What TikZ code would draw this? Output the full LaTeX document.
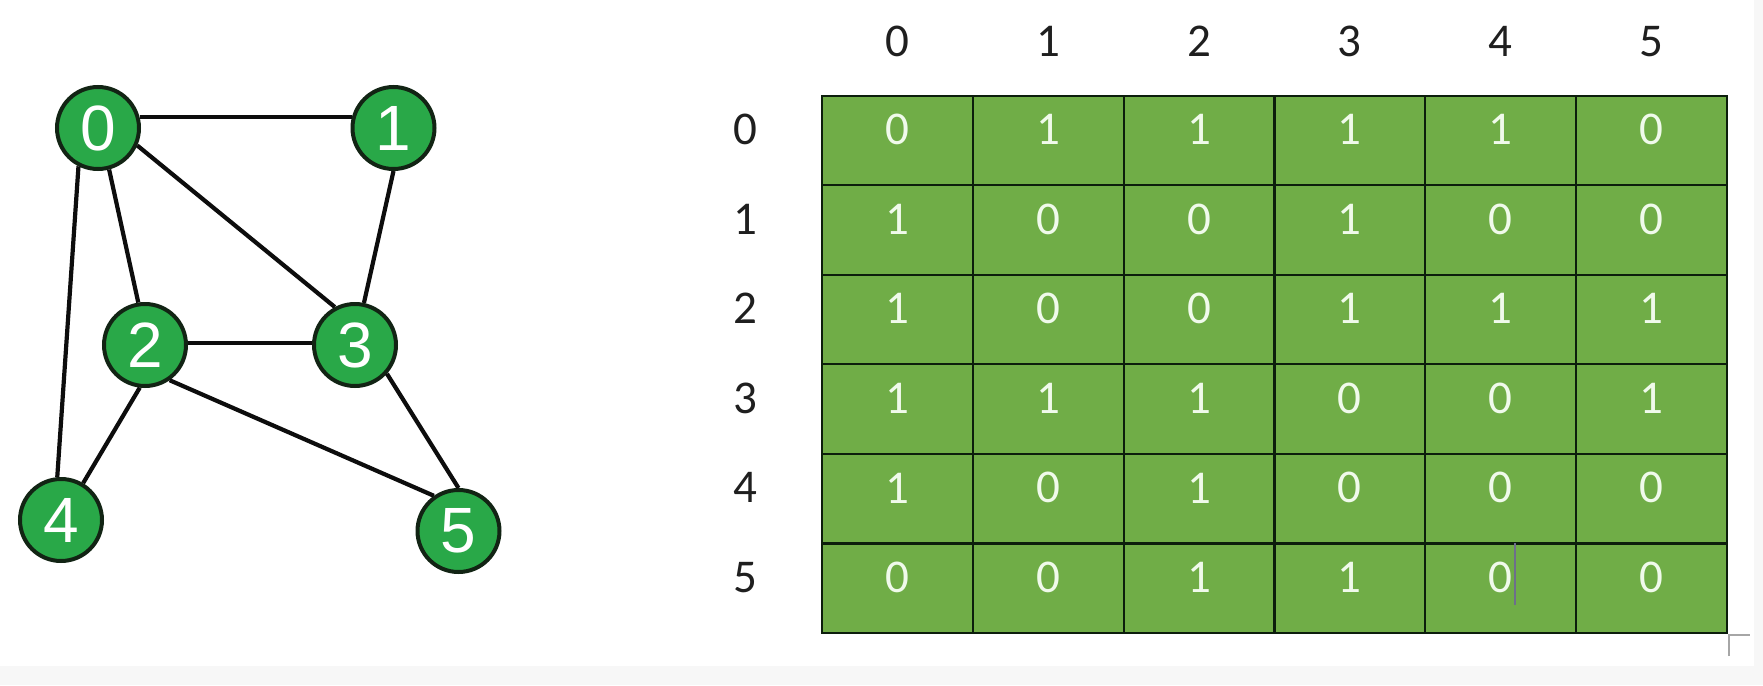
\documentclass[tikz,border=0pt]{standalone}
\usepackage{fontspec}
\setmainfont{Carlito}
\newfontfamily\nodefont{Liberation Sans}
\definecolor{vgreen}{RGB}{41,168,72}
\definecolor{vborder}{RGB}{18,36,20}
\definecolor{tgreen}{RGB}{112,173,71}
\definecolor{tline}{RGB}{12,30,12}
\definecolor{celltext}{RGB}{240,250,235}
\definecolor{bggray}{RGB}{247,247,247}
\definecolor{cursor}{RGB}{110,110,140}
\begin{document}
\begin{tikzpicture}[x=1pt,y=-1pt,
 vertex/.style={circle,fill=vgreen,draw=vborder,line width=4pt,minimum size=82pt,inner sep=0pt,text=white,font=\nodefont\fontsize{64}{70}\selectfont},
 edge/.style={line width=4.2pt,black!95},
 cell/.style={text=celltext,font=\fontsize{47}{52}\selectfont,inner sep=0pt},
 lab/.style={text=black!88,font=\fontsize{47}{52}\selectfont,inner sep=0pt},
 grid/.style={draw=tline,line width=2.2pt}]
\fill[bggray] (0,0) rectangle (1763,685);
\fill[white] (0,0) rectangle (1754,666);
\useasboundingbox (0,0) rectangle (1763,685);

% graph
\node[vertex] (v0) at (98,128) {0};
\node[vertex] (v1) at (393.5,128) {1};
\node[vertex] (v2) at (145,345) {2};
\node[vertex] (v3) at (355,345) {3};
\node[vertex] (v4) at (61,520) {4};
\node[vertex] (v5) at (458.5,531) {5};

\draw[edge] (v0.15) -- (v1.165);
\draw[edge] (v0.-75) -- (v2.99);
\draw[edge] (v0.-24) -- (v3.118);
\draw[edge] (v0.243) -- (v4.95);
\draw[edge] (v1.270) -- (v3.78);
\draw[edge] (v2.3) -- (v3.177);
\draw[edge] (v2.263) -- (v4.59);
\draw[edge] (v2.-55) -- (v5.125);
\draw[edge] (v3.-42) -- (v5.90);

% table
\fill[tgreen] (822,95.6) rectangle (1727,633);
\foreach \k in {1,...,5} {
  \draw[grid] ({822+150.83*\k},95.6) -- ({822+150.83*\k},633);
  \draw[grid] (822,{95.6+89.57*\k}) -- (1727,{95.6+89.57*\k});
}
\draw[grid] (822,95.6) rectangle (1727,633);

% headers
\foreach \c in {0,...,5} {
  \node[lab] (h\c) at ({897.4+150.83*\c},41.5) {\c};
  \node[lab] (r\c) at (745,{129.6+89.57*\c}) {\c};
}

% cells
\foreach \v [count=\c from 0] in {0,1,1,1,1,0}
  \node[cell] (c0-\c) at ({897.4+150.83*\c},129.6) {\v};
\foreach \v [count=\c from 0] in {1,0,0,1,0,0}
  \node[cell] (c1-\c) at ({897.4+150.83*\c},219.2) {\v};
\foreach \v [count=\c from 0] in {1,0,0,1,1,1}
  \node[cell] (c2-\c) at ({897.4+150.83*\c},308.7) {\v};
\foreach \v [count=\c from 0] in {1,1,1,0,0,1}
  \node[cell] (c3-\c) at ({897.4+150.83*\c},398.3) {\v};
\foreach \v [count=\c from 0] in {1,0,1,0,0,0}
  \node[cell] (c4-\c) at ({897.4+150.83*\c},487.9) {\v};
\foreach \v [count=\c from 0] in {0,0,1,1,0,0}
  \node[cell] (c5-\c) at ({897.4+150.83*\c},577.5) {\v};

% text cursor and corner mark
\draw[cursor,line width=1.2pt] (1515,543) -- (1515,605);
\draw[gray!70,line width=2pt] (1729,656) -- (1729,635) -- (1750,635);
\end{tikzpicture}
\end{document}
